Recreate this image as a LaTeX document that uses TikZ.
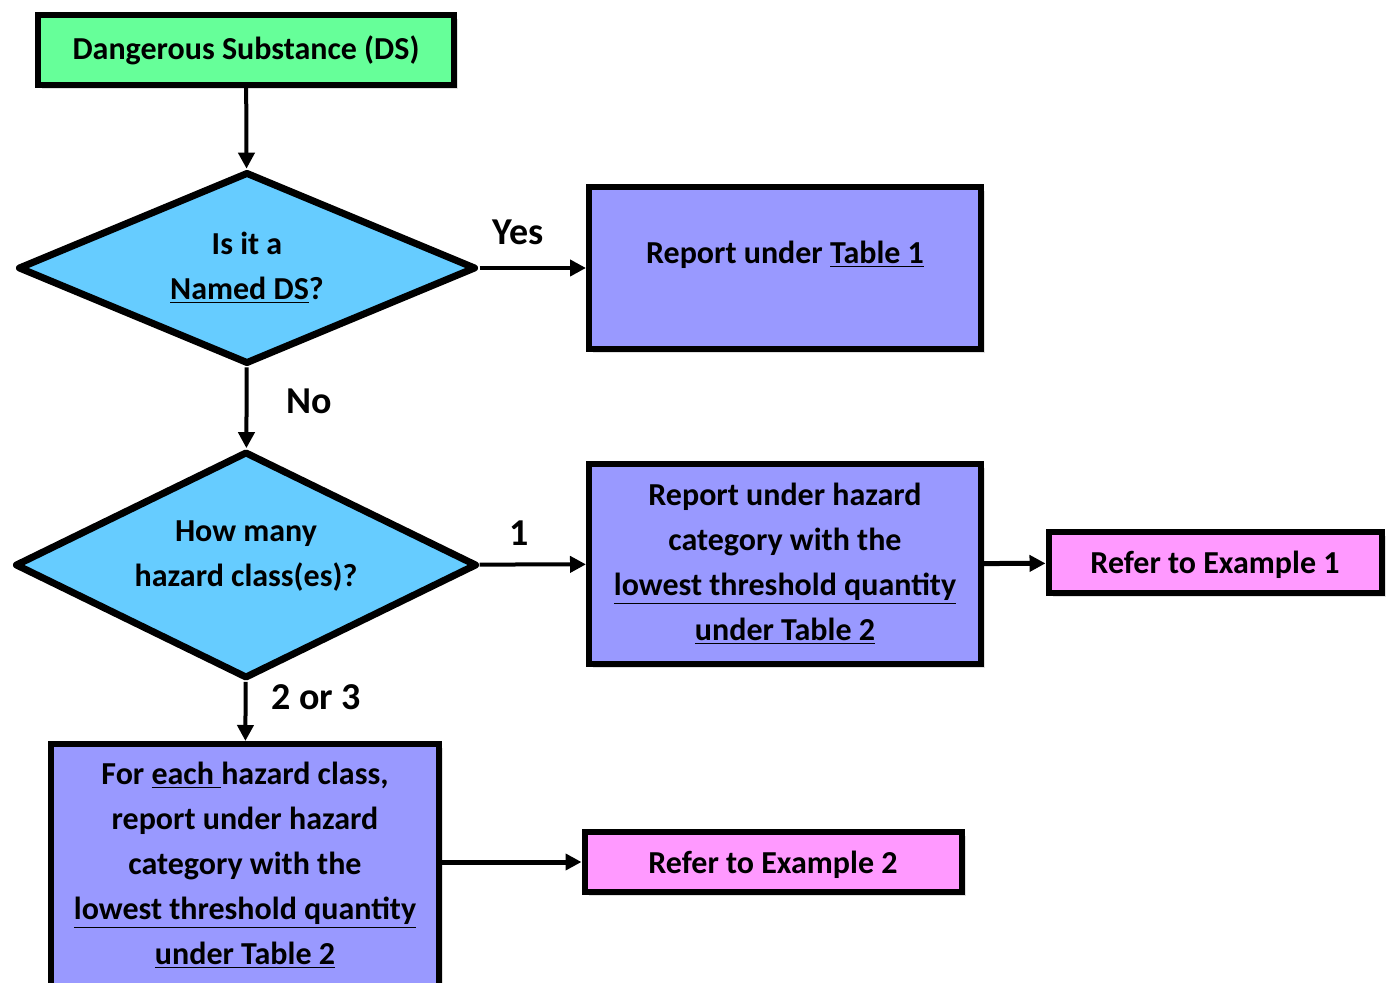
\documentclass[tikz,border=0pt]{standalone}
\usepackage{fontspec}
\setmainfont{Carlito}
\usetikzlibrary{shapes.geometric, arrows.meta, shadows}

\definecolor{startgreen}{HTML}{66FF99}
\definecolor{askblue}{HTML}{66CCFF}
\definecolor{reportviolet}{HTML}{9999FF}
\definecolor{referpink}{HTML}{FF99FF}

\tikzset{
  txt/.style={font=\bfseries\fontsize{16}{22.5}\selectfont, align=center},
  lbl/.style={font=\bfseries\fontsize{19}{22}\selectfont},
  box/.style={txt, draw, line width=3pt, inner sep=0pt,
    drop shadow={shadow xshift=2pt, shadow yshift=-2pt, opacity=0.25}},
  refer/.style={box, fill=referpink, text height=15pt, text depth=4pt},
  ask/.style={txt, draw, diamond, fill=askblue, line width=3.5pt, inner sep=0pt,
    line join=round},
  flow/.style={-{Triangle[length=8pt,width=8pt]}, line width=2pt},
}

\begin{document}
\begin{tikzpicture}[x=0.5pt, y=-0.5pt]
\useasboundingbox (0, 0) rectangle (1387, 983);

\node[box, fill=startgreen, minimum width=208pt, minimum height=35pt] (ds) at (246, 50) {Dangerous Substance (DS)};
\node[ask, shape aspect=2.39, minimum width=229pt, minimum height=96pt] (named) at (247, 268) {Is it a\\\underline{Named DS}?};
\node[box, fill=reportviolet, minimum width=196pt, minimum height=81pt, text depth=16pt] (tab1) at (785, 268) {Report under \underline{Table 1}};
\node[ask, shape aspect=2.04, minimum width=231pt, minimum height=113.5pt, text depth=11pt] (howmany) at (246, 565) {How many\\hazard class(es)?};
\node[box, fill=reportviolet, minimum width=196pt, minimum height=100pt] (onecls) at (785, 564) {Report under hazard\\category with the\\\underline{lowest threshold quantity}\\\underline{under Table 2}};
\node[refer, minimum width=166.5pt, minimum height=30.5pt] (ex1) at (1215, 563) {Refer to Example 1};
\node[box, fill=reportviolet, minimum width=194pt, minimum height=121pt] (each) at (245, 865) {For \underline{each }hazard class,\\report under hazard\\category with the\\\underline{lowest threshold quantity}\\\underline{under Table 2}};
\node[refer, minimum width=188.5pt, minimum height=30pt] (ex2) at (773, 862) {Refer to Example 2};

% answers
\node[lbl] (yes) at (518, 232) {Yes};
\node[lbl] (no) at (309, 401) {No};
\node[lbl] (one) at (519, 533) {1};
\node[lbl] (more) at (316, 697) {2 or 3};

\draw[flow] (ds) -- (named);
\draw[flow] (named) -- (tab1);
\draw[flow] (named) -- (howmany);
\draw[flow] (howmany) -- (onecls);
\draw[flow, line width=2.5pt] (onecls) -- (ex1);
\draw[flow] (howmany) -- (each);
\draw[flow, line width=2.5pt] (ex2.west -| each.east) -- (ex2.west);
\end{tikzpicture}
\end{document}
